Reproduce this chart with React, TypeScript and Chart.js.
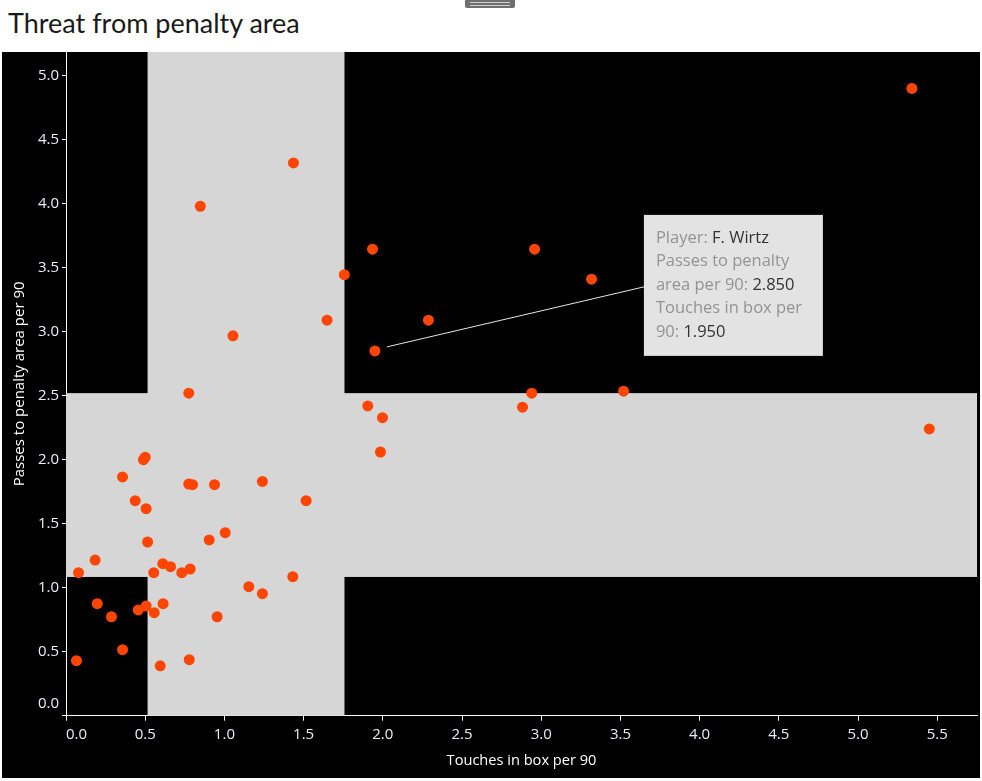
import React, { useEffect, useRef } from "react";
import { Chart, registerables } from "chart.js";

Chart.register(...registerables);

// Touches in box per 90 (x) and passes to penalty area per 90 (y)
const touchesInBox = [
  5.34, 5.45, 1.436, 0.848, 1.054, 0.775, 1.935, 2.958, 3.318, 1.757, 1.648, 2.288,
  1.95, 1.905, 1.998, 1.985, 2.882, 2.94, 3.52,
  0.5, 0.489, 0.357, 0.775, 0.799, 0.9375, 1.24, 0.437, 0.506, 1.516, 1.005, 0.904,
  0.515, 0.184, 0.079, 0.554, 0.611, 0.66, 0.731, 0.784, 1.432, 1.154, 1.24, 0.197,
  0.287, 0.456, 0.506, 0.557, 0.613, 0.954, 0.357, 0.066, 0.595, 0.778,
];
const passesToArea = [
  4.9, 2.24, 4.318, 3.98, 2.968, 2.52, 3.645, 3.645, 3.41, 3.445, 3.09, 3.09,
  2.85, 2.42, 2.328, 2.06, 2.41, 2.52, 2.535,
  2.02, 2.0, 1.865, 1.81, 1.805, 1.805, 1.83, 1.68, 1.617, 1.68, 1.43, 1.373,
  1.357, 1.216, 1.117, 1.117, 1.188, 1.164, 1.117, 1.146, 1.086, 1.008, 0.953, 0.875,
  0.773, 0.826, 0.857, 0.805, 0.875, 0.773, 0.516, 0.43, 0.39, 0.4375,
];

const highlightIndex = 12;
const highlightPlayer = "F. Wirtz";

const xTicks = [0, 0.5, 1, 1.5, 2, 2.5, 3, 3.5, 4, 4.5, 5, 5.5];
const yTicks = [0, 0.5, 1, 1.5, 2, 2.5, 3, 3.5, 4, 4.5, 5];
const X_MAX = 5.751;
const Y_MAX = 5.185;

// Reference bands (average zones)
const xBand = [0.515, 1.758];
const yBand = [1.084, 2.52];

const SANS = "'Open Sans', 'Noto Sans', sans-serif";

export default function App() {
  const canvasRef = useRef<HTMLCanvasElement | null>(null);

  useEffect(() => {
    document.body.style.margin = "0";
    const canvas = canvasRef.current;
    if (!canvas) return;

    const bandPlugin = {
      id: "bands",
      beforeDatasetsDraw(chart: any) {
        const { ctx, chartArea, scales } = chart;
        const xs = scales.x;
        const ys = scales.y;
        ctx.save();
        ctx.fillStyle = "#d6d6d6";
        const bx1 = xs.getPixelForValue(xBand[0]);
        const bx2 = xs.getPixelForValue(xBand[1]);
        ctx.fillRect(bx1, chartArea.top, bx2 - bx1, chartArea.bottom - chartArea.top);
        const by1 = ys.getPixelForValue(yBand[1]);
        const by2 = ys.getPixelForValue(yBand[0]);
        ctx.fillRect(chartArea.left, by1, chartArea.right - chartArea.left, by2 - by1);
        ctx.restore();
      },
    };

    const tipPlugin = {
      id: "tip",
      afterDatasetsDraw(chart: any) {
        const { ctx } = chart;
        const el = chart.getDatasetMeta(0).data[highlightIndex];
        if (!el) return;
        const px = el.x;
        const py = el.y;
        const boxX = px + 269;
        const boxY = py - 136;
        const boxW = 179;
        const boxH = 141;
        ctx.save();
        ctx.strokeStyle = "#e6e6e6";
        ctx.lineWidth = 1;
        ctx.beginPath();
        ctx.moveTo(px + 12, py - 4);
        ctx.lineTo(boxX, boxY + 72);
        ctx.stroke();
        ctx.fillStyle = "#e3e3e3";
        ctx.fillRect(boxX, boxY, boxW, boxH);
        ctx.font = "16.5px " + SANS;
        ctx.textBaseline = "middle";
        const lines: [string, string][] = [
          ["Player: ", highlightPlayer],
          ["Passes to penalty", ""],
          ["area per 90: ", passesToArea[highlightIndex].toFixed(3)],
          ["Touches in box per", ""],
          ["90: ", touchesInBox[highlightIndex].toFixed(3)],
        ];
        lines.forEach(([label, value], i) => {
          const ty = boxY + 23 + i * 23.5;
          ctx.fillStyle = "#939393";
          ctx.fillText(label, boxX + 12, ty);
          if (value) {
            const w = ctx.measureText(label).width;
            ctx.fillStyle = "#333333";
            ctx.fillText(value, boxX + 12 + w, ty);
          }
        });
        ctx.restore();
      },
    };

    const chart = new Chart(canvas, {
      type: "scatter",
      data: {
        datasets: [
          {
            data: touchesInBox.map((x, i) => ({ x, y: passesToArea[i] })),
            backgroundColor: "#ff4500",
            borderColor: "#ff4500",
            borderWidth: 0,
            pointRadius: 5.5,
            pointHoverRadius: 5.5,
          },
        ],
      },
      options: {
        animation: false,
        responsive: false,
        maintainAspectRatio: false,
        layout: { autoPadding: false, padding: { left: 0, right: 3, top: 0, bottom: 0 } },
        plugins: { legend: { display: false }, tooltip: { enabled: false } },
        events: [],
        scales: {
          x: {
            type: "linear",
            min: 0,
            max: X_MAX,
            afterBuildTicks: (s: any) => {
              s.ticks = [...xTicks, X_MAX].map((v) => ({ value: v }));
            },
            afterFit: (s: any) => {
              s.height = 62.3;
              s.paddingLeft = 0;
              s.paddingRight = 0;
            },
            grid: {
              display: true,
              drawOnChartArea: false,
              color: (c: any) => (c.tick && c.tick.value > 5.6 ? "rgba(0,0,0,0)" : "#ffffff"),
              tickLength: 5,
              tickWidth: 1,
            },
            border: { display: true, color: "#ffffff", width: 1 },
            ticks: {
              color: "#e8eef6",
              font: { family: SANS, size: 15 },
              padding: 5,
              align: "inner",
              maxRotation: 0,
              autoSkip: false,
              callback: (v: any) => (Number(v) > 5.6 ? "" : Number(v).toFixed(1)),
            },
            title: {
              display: true,
              text: "Touches in box per 90",
              color: "#ffffff",
              font: { family: SANS, size: 14.6 },
              padding: { top: 0, bottom: 8.2 },
            },
          },
          y: {
            type: "linear",
            min: 0,
            max: Y_MAX,
            afterBuildTicks: (s: any) => {
              s.ticks = yTicks.map((v) => ({ value: v }));
            },
            afterFit: (s: any) => {
              s.width = 64;
              s.paddingTop = 0;
              s.paddingBottom = 0;
            },
            grid: {
              display: true,
              drawOnChartArea: false,
              color: "#ffffff",
              tickLength: 4,
              tickWidth: 1,
            },
            border: { display: true, color: "#ffffff", width: 1 },
            ticks: {
              color: "#e8eef6",
              font: (c: any) =>
                c.tick && c.tick.value === 0
                  ? { family: SANS, size: 15, lineHeight: "23px" }
                  : { family: SANS, size: 15 },
              padding: 3,
              autoSkip: false,
              callback: (v: any) => (Number(v) === 0 ? ["0.0", ""] : Number(v).toFixed(1)),
            },
            title: {
              display: true,
              text: "Passes to penalty area per 90",
              color: "#ffffff",
              font: { family: SANS, size: 15 },
              padding: { top: 9, bottom: 0 },
            },
          },
        },
      },
      plugins: [bandPlugin, tipPlugin],
    } as any);

    return () => chart.destroy();
  }, []);

  return (
    <div style={{ position: "relative", width: 982, height: 781, background: "#ffffff", overflow: "hidden" }}>
      <div
        style={{
          position: "absolute",
          left: 465,
          top: 0,
          width: 50,
          height: 8,
          background: "#6f6f6f",
          borderRadius: "0 0 2px 2px",
        }}
      >
        <div style={{ position: "absolute", left: 5, right: 5, top: 2, height: 1, background: "#d0d0d0" }} />
        <div style={{ position: "absolute", left: 5, right: 5, top: 5, height: 1, background: "#d0d0d0" }} />
      </div>
      <div
        style={{
          position: "absolute",
          left: 8,
          top: 8,
          fontFamily: "Lato, 'Noto Sans', sans-serif",
          fontSize: 27,
          color: "#1a1a1a",
          lineHeight: "30px",
          whiteSpace: "nowrap",
        }}
      >
        Threat from penalty area
      </div>
      <div style={{ position: "absolute", left: 2, top: 52, width: 978, height: 726, background: "#000000" }}>
        <canvas ref={canvasRef} width={978} height={726} style={{ display: "block", width: 978, height: 726 }} />
      </div>
    </div>
  );
}
